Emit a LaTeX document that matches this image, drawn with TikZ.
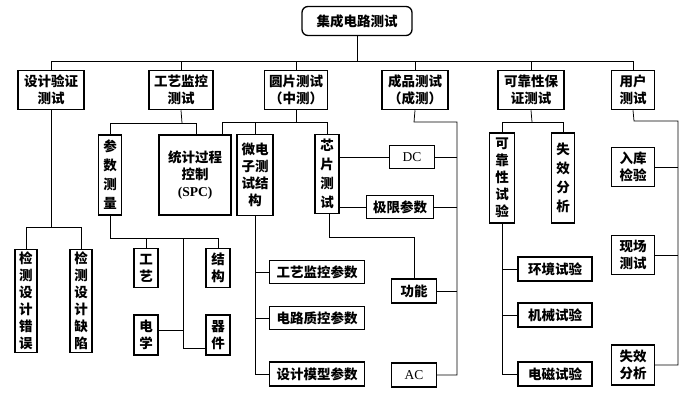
\documentclass[tikz,border=0pt]{standalone}
\usepackage{fontspec}
\setmainfont{Noto Sans CJK SC}
\newfontfamily\lat{Liberation Serif}
\usetikzlibrary{calc}
\begin{document}
\begin{tikzpicture}[x=1pt,y=-1pt,
  bx/.style={draw, line width=1.3pt, inner sep=0pt, align=center,
    font=\fontsize{13.5}{17}\selectfont\bfseries},
  top/.style={bx, line width=1.5pt},
  sz/.style 2 args={minimum width=#1, minimum height=#2},
  ln/.style={line width=0.75pt}]
\useasboundingbox (0,0) rectangle (699,397);
% root
\node[bx, rounded corners=6pt, sz={110}{29}] (root) at (357,21) {集成电路测试};
% level 1
\node[top, sz={66}{39}] (A) at (51,90) {设计验证\\测试};
\node[top, sz={64}{39}] (B) at (181,90) {工艺监控\\测试};
\node[top, sz={63}{39}] (C) at (296,90) {圆片测试\\（中测）};
\node[top, sz={66}{39}] (D) at (415,90) {成品测试\\（成测）};
\node[top, sz={66}{39}] (E) at (531,90) {可靠性保\\证测试};
\node[top, sz={43}{39}] (F) at (633,90) {用户\\测试};
\coordinate (busL) at (51,61);
\coordinate (busR) at (634,61);
\draw[ln] (root.south) -- (root.south |- busL);
\draw[ln] (busL) -- (busR);
\foreach \n in {A,B,C,D,E,F} \draw[ln] (\n.north |- busL) -- (\n.north);
% A children
\node[bx, sz={22}{103}] (A1) at (26,301) {检\\测\\设\\计\\错\\误};
\node[bx, sz={22}{103}] (A2) at (81,301) {检\\测\\设\\计\\缺\\陷};
\coordinate (Aj) at (51,227);
\draw[ln] (A.south) -- (Aj);
\draw[ln] (A1.north) -- (A1.north |- Aj) -- (A2.north |- Aj) -- (A2.north);
% B children
\node[bx, sz={23}{80}, font=\fontsize{13.5}{19}\selectfont\bfseries] (B1) at (110,175) {参\\数\\测\\量};
\node[bx, sz={72}{80}] (B2) at (195,175) {统计过程\\控制\\{\lat\bfseries (SPC)}};
\coordinate (Bj) at (182,123);
\coordinate (B2t) at (196,135);
\draw[ln] (B.south) -- (Bj);
\draw[ln] (B1.north) -- (B1.north |- Bj) -- (B2t |- Bj) -- (B2t);
\node[bx, sz={24}{39}] (B3) at (146,268) {工\\艺};
\node[bx, sz={24}{39}] (B4) at (218,268) {结\\构};
\node[bx, sz={24}{40}] (B5) at (146,335) {电\\学};
\node[bx, sz={24}{40}] (B6) at (218,335) {器\\件};
\coordinate (B1j) at (110,238);
\coordinate (Bv) at (183,238);
\coordinate (B6p) at ([yshift=7pt]B6.south west);
\coordinate (B5p) at ([yshift=5pt]B5.east);
\draw[ln] (B1.south) -- (B1j) -- (B4.north |- B1j) -- (B4.north);
\draw[ln] (B3.north |- B1j) -- (B3.north);
\draw[ln] (Bv) -- (Bv |- B6p) -- (B6p);
\draw[ln] (B5p) -- (Bv |- B5p);
% C children
\node[bx, sz={36}{81}] (C1) at (255,175) {微电\\子测\\试结\\构};
\node[bx, sz={24}{79}, font=\fontsize{13.5}{19}\selectfont\bfseries] (C2) at (327,174) {芯\\片\\测\\试};
\coordinate (Cj) at (296,122);
\coordinate (Cl) at (222,122);
\draw[ln] (C.south) -- (Cj);
\draw[ln] (Cl |- B2.north) -- (Cl) -- (C2.north |- Cj) -- (C2.north);
\draw[ln] (C1.north |- Cj) -- (C1.north);
\node[bx, sz={95}{23}] (C3) at (317,272) {工艺监控参数};
\node[bx, sz={95}{23}] (C4) at (317,318) {电路质控参数};
\node[bx, sz={95}{24}] (C5) at (317,374) {设计模型参数};
\draw[ln] (C1.south) -- (C1.south |- C5.west) -- (C5.west);
\draw[ln] (C1.south |- C3.west) -- (C3.west);
\draw[ln] (C1.south |- C4.west) -- (C4.west);
% D children
\node[bx, sz={45}{23}] (D1) at (412,157) {\lat\mdseries DC};
\node[bx, sz={67}{23}] (D2) at (400,207) {极限参数};
\node[bx, sz={45}{24}] (D3) at (414,291) {功能};
\node[bx, sz={45}{24}] (D4) at (414,375) {\lat\mdseries AC};
\coordinate (Dj) at (414,122);
\coordinate (Dv) at (457,122);
\draw[ln] (D.south) -- (Dj) -- (Dv) -- (Dv |- D4.east) -- (D4.east);
\draw[ln] (Dv |- D1.east) -- (D1.east);
\draw[ln] (Dv |- D2.east) -- (D2.east);
\draw[ln] (Dv |- D3.east) -- (D3.east);
\draw[ln] (C2.east |- D1.west) -- (D1.west);
\draw[ln] (C2.east |- D2.west) -- (D2.west);
\coordinate (C2j) at (329,237);
\draw[ln] (C2j |- C2.south) -- (C2j) -- (D3.north |- C2j) -- (D3.north);
% E children
\node[bx, sz={25}{90}] (E1) at (502,178) {可\\靠\\性\\试\\验};
\node[bx, sz={23}{90}, font=\fontsize{13.5}{19}\selectfont\bfseries] (E2) at (563,178) {失\\效\\分\\析};
\coordinate (Ej) at (532,122);
\draw[ln] (E.south) -- (Ej);
\draw[ln] (E1.north) -- (E1.north |- Ej) -- (E2.north |- Ej) -- (E2.north);
\node[bx, sz={74}{24}] (E3) at (555,269) {环境试验};
\node[bx, sz={74}{24}] (E4) at (555,315) {机械试验};
\node[bx, sz={74}{24}] (E5) at (555,374) {电磁试验};
\draw[ln] (E1.south) -- (E1.south |- E5.west) -- (E5.west);
\draw[ln] (E1.south |- E3.west) -- (E3.west);
\draw[ln] (E1.south |- E4.west) -- (E4.west);
% F children
\node[bx, sz={43}{39}] (F1) at (633,167) {入库\\检验};
\node[bx, sz={43}{39}] (F2) at (633,255) {现场\\测试};
\node[bx, sz={43}{40}] (F3) at (633,365) {失效\\分析};
\coordinate (Fj) at (634,121);
\coordinate (Fv) at (678,121);
\draw[ln] (F.south) -- (Fj) -- (Fv) -- (Fv |- F3.east) -- (F3.east);
\draw[ln] (Fv |- F1.east) -- (F1.east);
\draw[ln] (Fv |- F2.east) -- (F2.east);
\end{tikzpicture}
\end{document}
